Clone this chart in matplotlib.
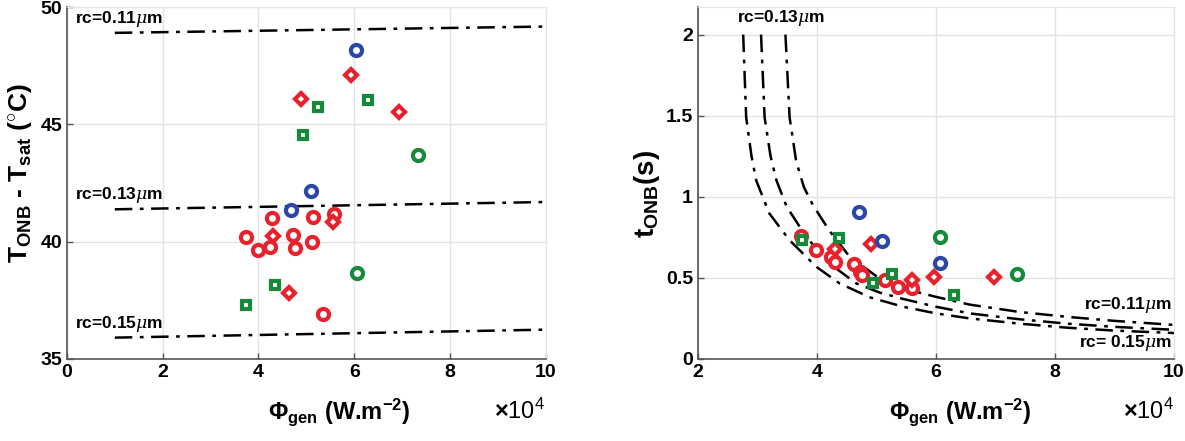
import matplotlib
matplotlib.use('Agg')
import matplotlib.pyplot as plt

plt.rcParams['font.family'] = ['Liberation Sans', 'DejaVu Sans']
plt.rcParams['mathtext.fontset'] = 'custom'
plt.rcParams['mathtext.rm'] = 'Liberation Sans:bold'
plt.rcParams['mathtext.bf'] = 'Liberation Sans:bold'
plt.rcParams['mathtext.it'] = 'DejaVu Serif:italic'

RED, BLUE, GREEN = '#e8222c', '#2b48a8', '#17893a'

# ---- left panel: superheat at ONB (x in 1e4 W/m2, y in degC)
l_red_circ_x = [4.28, 5.13, 5.58, 3.73, 4.72, 5.12, 3.99, 4.24, 4.76, 5.35]
l_red_circ_y = [40.99, 41.06, 41.16, 40.2, 40.28, 39.99, 39.64, 39.78, 39.75, 36.91]
l_red_dia_x = [5.93, 4.89, 6.94, 5.56, 4.30, 4.63]
l_red_dia_y = [47.09, 46.06, 45.52, 40.84, 40.23, 37.8]
l_blue_circ_x = [6.04, 5.10, 4.67]
l_blue_circ_y = [48.18, 42.15, 41.34]
l_green_circ_x = [7.33, 6.05]
l_green_circ_y = [43.71, 38.67]
l_green_sq_x = [5.25, 6.29, 4.94, 4.35, 3.74]
l_green_sq_y = [45.74, 46.02, 44.56, 38.15, 37.3]

# model lines (straight) for three cavity radii
l_model_x = [1, 10]
l_model_011 = [48.9, 49.17]
l_model_013 = [41.38, 41.69]
l_model_015 = [35.91, 36.25]

# ---- right panel: time to ONB (s)
r_red_circ_x = [3.74, 3.99, 4.24, 4.30, 4.62, 4.72, 4.76, 5.14, 5.36, 5.60]
r_red_circ_y = [0.759, 0.675, 0.626, 0.599, 0.585, 0.537, 0.517, 0.486, 0.441, 0.435]
r_red_dia_x = [4.31, 4.90, 5.60, 5.97, 6.97]
r_red_dia_y = [0.681, 0.708, 0.486, 0.503, 0.503]
r_blue_circ_x = [4.70, 5.10, 6.06]
r_blue_circ_y = [0.906, 0.726, 0.589]
r_green_circ_x = [6.06, 7.37]
r_green_circ_y = [0.753, 0.523]
r_green_sq_x = [3.75, 4.37, 4.94, 5.26, 6.30]
r_green_sq_y = [0.732, 0.749, 0.466, 0.521, 0.394]

# model curves
r_m011_x = [3.47, 3.54, 3.65, 3.78, 3.93, 4.21, 4.55, 5.00, 5.45, 6.00, 6.57, 7.40, 8.20, 9.00, 10.0]
r_m011_y = [2.0, 1.49, 1.22, 1.06, 0.95, 0.79, 0.63, 0.51, 0.435, 0.383, 0.335, 0.29, 0.26, 0.235, 0.21]
r_m013_x = [3.06, 3.12, 3.22, 3.32, 3.49, 3.82, 4.21, 4.66, 5.05, 5.45, 6.00, 6.57, 7.40, 8.20, 9.00, 10.0]
r_m013_y = [2.0, 1.49, 1.25, 1.10, 0.94, 0.753, 0.589, 0.466, 0.41, 0.37, 0.322, 0.281, 0.245, 0.218, 0.198, 0.18]
r_m015_x = [2.76, 2.81, 2.90, 2.98, 3.20, 3.54, 3.99, 4.38, 4.89, 5.45, 6.00, 6.57, 7.40, 8.20, 9.00, 10.0]
r_m015_y = [2.0, 1.49, 1.25, 1.10, 0.897, 0.732, 0.568, 0.466, 0.38, 0.322, 0.281, 0.25, 0.218, 0.193, 0.175, 0.16]

fig = plt.figure(figsize=(11.85, 4.41), dpi=100)
ax1 = fig.add_axes([0.0565, 0.186, 0.404, 0.798])
ax2 = fig.add_axes([0.589, 0.186, 0.4017, 0.798])

dash = dict(color='black', lw=1.8, dashes=(7, 3, 1.5, 3))
mk = dict(ls='none', mfc='white', mew=3, zorder=3)


def scatter_sets(ax, sets):
    for x, y, m, c, s in sets:
        ax.plot(x, y, marker=m, mec=c, ms=s, **mk)


def style(ax):
    ax.grid(True, color='#e3e3e3', lw=1)
    ax.set_axisbelow(True)
    for s in ['top', 'right']:
        ax.spines[s].set_color('#e3e3e3')
    for s in ['left', 'bottom']:
        ax.spines[s].set_color('#555555')
        ax.spines[s].set_linewidth(1.2)
    ax.tick_params(direction='in', length=4, width=1, colors='#555555',
                   labelcolor='black', labelsize=14, top=False, right=False)
    for lab in ax.get_xticklabels() + ax.get_yticklabels():
        lab.set_fontweight('bold')


lbl = dict(fontsize=12.5, fontweight='bold', va='center')
xl = r'$\Phi_{\mathbf{gen}}$ (W.m$^{\mathbf{-2}}$)'
x104 = r'$\times\mathregular{10}^{\mathregular{4}}$'

# left
ax1.plot(l_model_x, l_model_011, **dash)
ax1.plot(l_model_x, l_model_013, **dash)
ax1.plot(l_model_x, l_model_015, **dash)
scatter_sets(ax1, [
    (l_red_circ_x, l_red_circ_y, 'o', RED, 8),
    (l_red_dia_x, l_red_dia_y, 'D', RED, 6.5),
    (l_blue_circ_x, l_blue_circ_y, 'o', BLUE, 8),
    (l_green_circ_x, l_green_circ_y, 'o', GREEN, 8),
    (l_green_sq_x, l_green_sq_y, 's', GREEN, 6),
])
ax1.set_xlim(0, 10)
ax1.set_ylim(35, 50)
ax1.set_xticks([0, 2, 4, 6, 8, 10])
ax1.set_yticks([35, 40, 45, 50])
style(ax1)
ax1.text(0.17, 49.5, r'rc=0.11$\mu$m', **lbl)
ax1.text(0.17, 41.98, r'rc=0.13$\mu$m', **lbl)
ax1.text(0.17, 36.5, r'rc=0.15$\mu$m', **lbl)
ax1.text(0.568, -0.15, xl, transform=ax1.transAxes,
         ha='center', va='center', fontsize=17, fontweight='bold')
ax1.text(0.998, -0.15, x104, transform=ax1.transAxes,
         ha='right', va='center', fontsize=17)
ax1.text(-0.098, 0.53, r'T$_{\mathbf{ONB}}$ - T$_{\mathbf{sat}}$ ($^{\circ}$C)', transform=ax1.transAxes,
         ha='center', va='center', rotation=90, fontsize=19, fontweight='bold')

# right
ax2.plot(r_m011_x, r_m011_y, **dash)
ax2.plot(r_m013_x, r_m013_y, **dash)
ax2.plot(r_m015_x, r_m015_y, **dash)
scatter_sets(ax2, [
    (r_red_circ_x, r_red_circ_y, 'o', RED, 8),
    (r_red_dia_x, r_red_dia_y, 'D', RED, 6.5),
    (r_blue_circ_x, r_blue_circ_y, 'o', BLUE, 8),
    (r_green_circ_x, r_green_circ_y, 'o', GREEN, 8),
    (r_green_sq_x, r_green_sq_y, 's', GREEN, 6),
])
ax2.set_xlim(2, 10)
ax2.set_ylim(0, 2.17)
ax2.set_xticks([2, 4, 6, 8, 10])
ax2.set_yticks([0, 0.5, 1, 1.5, 2])
ax2.set_yticklabels(['0', '0.5', '1', '1.5', '2'])
style(ax2)
ax2.text(2.65, 2.1, r'rc=0.13$\mu$m', **lbl)
ax2.text(9.96, 0.33, r'rc=0.11$\mu$m', ha='right', **lbl)
ax2.text(9.96, 0.1, r'rc= 0.15$\mu$m', ha='right', **lbl)
ax2.text(0.55, -0.15, xl, transform=ax2.transAxes,
         ha='center', va='center', fontsize=17, fontweight='bold')
ax2.text(1.0, -0.15, x104, transform=ax2.transAxes,
         ha='right', va='center', fontsize=17)
ax2.text(-0.107, 0.47, r't$_{\mathbf{ONB}}$(s)', transform=ax2.transAxes,
         ha='center', va='center', rotation=90, fontsize=20, fontweight='bold')

fig.savefig('out.png', dpi=100)
